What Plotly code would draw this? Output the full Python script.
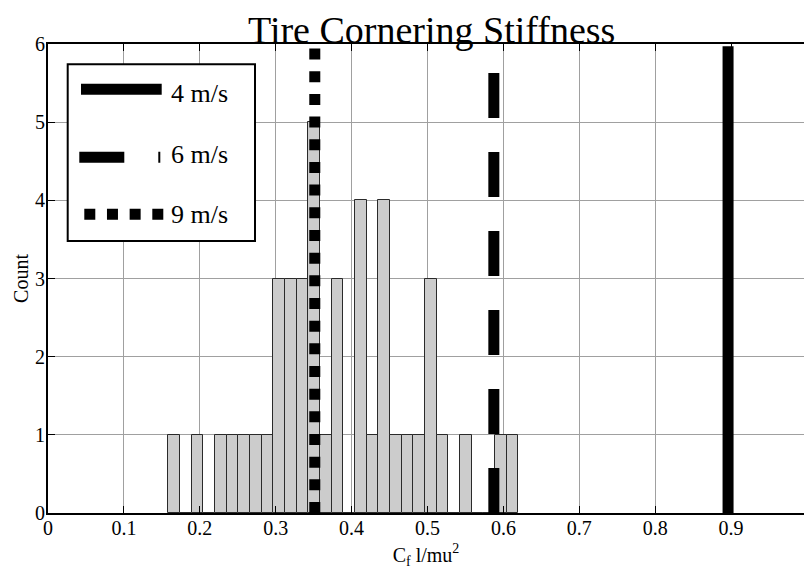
import numpy as np
import plotly.graph_objects as go

# Histogram of normalised front cornering stiffness (30 equal-width bins)
bin_lo = 0.1584
bin_hi = 0.6197
counts = [1, 0, 1, 0, 1, 1, 1, 1, 1, 3,
          3, 3, 5, 1, 3, 0, 4, 1, 4, 1,
          1, 1, 3, 1, 0, 1, 0, 0, 1, 1]

# Stiffness identified at each test speed
speed_labels = ["4 m/s", "6 m/s", "9 m/s"]
speed_values = [0.896, 0.5874, 0.3515]
speed_dashes = ["solid", "45px,34px", "11px,11.67px"]
line_top = 5.97

x_ticks = [0, 0.1, 0.2, 0.3, 0.4, 0.5, 0.6, 0.7, 0.8, 0.9]
x_tick_text = ["0", "0.1", "0.2", "0.3", "0.4", "0.5", "0.6", "0.7", "0.8", "0.9"]
y_ticks = [0, 1, 2, 3, 4, 5, 6]

SERIF = "Liberation Serif"

n_bins = len(counts)
edges = np.linspace(bin_lo, bin_hi, n_bins + 1)
centers = (edges[:-1] + edges[1:]) / 2
bin_w = edges[1] - edges[0]

fig = go.Figure()

fig.add_trace(go.Bar(
    x=centers, y=counts, width=bin_w,
    marker=dict(color="#cccccc", line=dict(color="#2a2a2a", width=1)),
    showlegend=False, hoverinfo="x+y",
))

for label, val, dash in zip(speed_labels, speed_values, speed_dashes):
    fig.add_trace(go.Scatter(
        x=[val, val], y=[0, line_top], mode="lines", name=label,
        line=dict(color="black", width=11, dash=dash),
        showlegend=False,
    ))

W, H = 804, 569
ML, MR, MT, MB = 48, 0, 44, 56
pw = W - ML - MR
ph = H - MT - MB


def px_x(x):
    return (x - ML) / pw


def px_y(y):
    return (H - MB - y) / ph


# Hand-built legend box with long line samples
shapes = [dict(type="rect", xref="paper", yref="paper",
               x0=px_x(67.7), x1=px_x(255), y0=px_y(241), y1=px_y(64.3),
               line=dict(color="black", width=2), fillcolor="white", layer="above")]
legend_rows = [
    (81.0, 161.7, 89.3, 93.5),
    (79.3, 160.3, 157.3, 154.0),
    (84.3, 163.3, 214.3, 214.0),
]
annotations = []
for (x0, x1, ly, ty), label, dash in zip(legend_rows, speed_labels, speed_dashes):
    shapes.append(dict(type="line", xref="paper", yref="paper",
                       x0=px_x(x0), x1=px_x(x1), y0=px_y(ly), y1=px_y(ly),
                       line=dict(color="black", width=11, dash=dash), layer="above"))
    annotations.append(dict(xref="paper", yref="paper", x=px_x(169), y=px_y(ty),
                            xanchor="left", yanchor="middle", text=label, showarrow=False,
                            font=dict(family=SERIF, size=26, color="black")))

annotations.append(dict(xref="paper", yref="paper", x=px_x(431), y=1,
                        xanchor="center", yanchor="bottom", yshift=-9,
                        text="Tire Cornering Stiffness", showarrow=False,
                        font=dict(family=SERIF, size=38, color="black")))

fig.update_layout(
    width=W, height=H,
    margin=dict(l=ML, r=MR, t=MT, b=MB),
    paper_bgcolor="white", plot_bgcolor="white",
    font=dict(family=SERIF, size=20, color="black"),
    bargap=0,
    shapes=shapes,
    annotations=annotations,
    xaxis=dict(
        range=[0, (W - ML) / 759.0], tickvals=x_ticks, ticktext=x_tick_text,
        showgrid=True, gridcolor="#a0a0a0", gridwidth=1, zeroline=False,
        showline=True, linecolor="black", linewidth=2, mirror="ticks",
        ticks="inside", ticklen=7, tickcolor="black", tickwidth=1,
        tickfont=dict(family=SERIF, size=20), ticklabelstandoff=-4,
        title=dict(text="C<sub>f</sub> l/mu<sup>2</sup>", font=dict(family=SERIF, size=20), standoff=12),
    ),
    yaxis=dict(
        range=[0, 6], tickvals=y_ticks,
        showgrid=True, gridcolor="#a0a0a0", gridwidth=1, zeroline=False,
        showline=True, linecolor="black", linewidth=2,
        ticks="inside", ticklen=7, tickcolor="black", tickwidth=1,
        tickfont=dict(family=SERIF, size=20), ticklabelstandoff=-3,
        title=dict(text="Count", font=dict(family=SERIF, size=20), standoff=1),
    ),
)

fig.write_html("out.html")
